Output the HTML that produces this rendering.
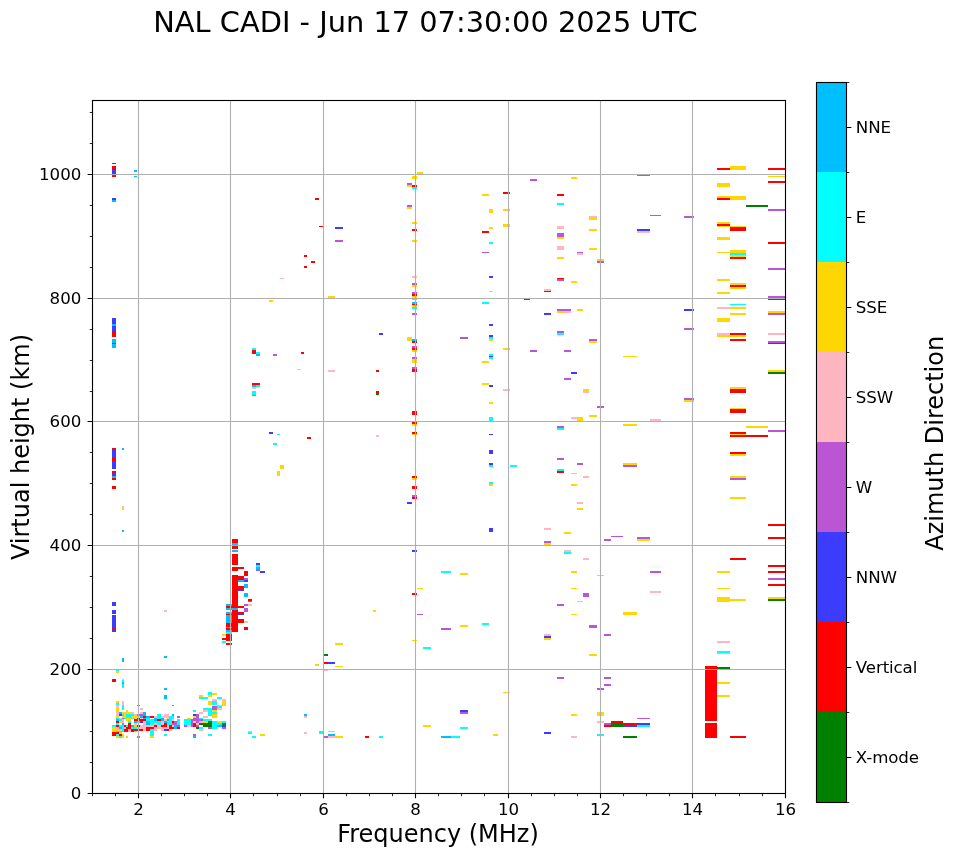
<!DOCTYPE html>
<html><head><meta charset="utf-8"><title>NAL CADI</title>
<style>html,body{margin:0;padding:0;background:#fff}svg{display:block}text{font-family:"DejaVu Sans","Liberation Sans",sans-serif;fill:#000}</style></head><body>
<svg width="958" height="857" viewBox="0 0 958 857">
<rect width="958" height="857" fill="#fff"/>
<g>
<rect x="112" y="163" width="4" height="1" fill="#3c3cff"/>
<rect x="112" y="166" width="4" height="4" fill="#ff0000"/>
<rect x="112" y="170" width="4" height="6" fill="#3c3cff"/>
<rect x="112" y="176" width="4" height="1" fill="#ff0000"/>
<rect x="134" y="170" width="3" height="2" fill="#00bfff"/>
<rect x="134" y="176" width="3" height="1" fill="#00bfff"/>
<rect x="112" y="198" width="4" height="2" fill="#3c3cff"/>
<rect x="112" y="200" width="4" height="2" fill="#00bfff"/>
<rect x="315" y="198" width="4" height="2" fill="#ff0000"/>
<rect x="319" y="226" width="4" height="1" fill="#ff0000"/>
<rect x="304" y="255" width="3" height="2" fill="#ff0000"/>
<rect x="311" y="261" width="4" height="2" fill="#ff0000"/>
<rect x="304" y="266" width="3" height="2" fill="#ff0000"/>
<rect x="280" y="278" width="4" height="1" fill="#ffb6c1"/>
<rect x="417" y="172" width="6" height="2" fill="#ffd700"/>
<rect x="412" y="176" width="5" height="3" fill="#ffd700"/>
<rect x="407" y="183" width="5" height="2" fill="#ba55d3"/>
<rect x="407" y="185" width="5" height="2" fill="#ffd700"/>
<rect x="412" y="185" width="5" height="2" fill="#ff0000"/>
<rect x="412" y="187" width="5" height="2" fill="#00ffff"/>
<rect x="407" y="205" width="5" height="2" fill="#ba55d3"/>
<rect x="407" y="207" width="5" height="2" fill="#ffd700"/>
<rect x="412" y="222" width="5" height="2" fill="#ffd700"/>
<rect x="412" y="229" width="5" height="2" fill="#ff0000"/>
<rect x="412" y="240" width="5" height="2" fill="#ffd700"/>
<rect x="335" y="227" width="8" height="2" fill="#3c3cff"/>
<rect x="335" y="240" width="8" height="2" fill="#ba55d3"/>
<rect x="412" y="276" width="5" height="2" fill="#ffb6c1"/>
<rect x="412" y="283" width="5" height="2" fill="#ba55d3"/>
<rect x="412" y="285" width="5" height="2" fill="#ffd700"/>
<rect x="530" y="179" width="7" height="2" fill="#ba55d3"/>
<rect x="571" y="177" width="6" height="2" fill="#ffd700"/>
<rect x="503" y="192" width="7" height="2" fill="#ff0000"/>
<rect x="482" y="194" width="7" height="2" fill="#ffd700"/>
<rect x="557" y="194" width="7" height="2" fill="#ff0000"/>
<rect x="557" y="203" width="7" height="2" fill="#00ffff"/>
<rect x="489" y="209" width="4" height="4" fill="#ffd700"/>
<rect x="503" y="209" width="7" height="2" fill="#ffd700"/>
<rect x="589" y="216" width="8" height="2" fill="#ffb6c1"/>
<rect x="589" y="218" width="8" height="2" fill="#ffd700"/>
<rect x="503" y="224" width="7" height="3" fill="#ffd700"/>
<rect x="489" y="227" width="4" height="2" fill="#ffd700"/>
<rect x="482" y="231" width="7" height="2" fill="#ff0000"/>
<rect x="557" y="226" width="7" height="3" fill="#ffb6c1"/>
<rect x="589" y="229" width="8" height="2" fill="#ffd700"/>
<rect x="557" y="233" width="7" height="4" fill="#ba55d3"/>
<rect x="557" y="237" width="7" height="2" fill="#ffd700"/>
<rect x="489" y="242" width="4" height="2" fill="#00ffff"/>
<rect x="557" y="246" width="7" height="4" fill="#ffb6c1"/>
<rect x="589" y="248" width="8" height="2" fill="#ffd700"/>
<rect x="482" y="252" width="7" height="1" fill="#ba55d3"/>
<rect x="577" y="252" width="6" height="1" fill="#ba55d3"/>
<rect x="577" y="253" width="6" height="2" fill="#ffb6c1"/>
<rect x="557" y="257" width="7" height="2" fill="#ffd700"/>
<rect x="597" y="259" width="7" height="2" fill="#ffd700"/>
<rect x="597" y="261" width="7" height="2" fill="#ba55d3"/>
<rect x="489" y="276" width="4" height="2" fill="#3c3cff"/>
<rect x="557" y="278" width="7" height="1" fill="#ff0000"/>
<rect x="557" y="279" width="7" height="2" fill="#ba55d3"/>
<rect x="571" y="281" width="6" height="2" fill="#ffd700"/>
<rect x="544" y="289" width="7" height="2" fill="#ffb6c1"/>
<rect x="544" y="291" width="7" height="1" fill="#ff0000"/>
<rect x="489" y="291" width="4" height="1" fill="#ffd700"/>
<rect x="717" y="168" width="13" height="2" fill="#ff0000"/>
<rect x="730" y="166" width="16" height="4" fill="#ffd700"/>
<rect x="768" y="168" width="17" height="2" fill="#ff0000"/>
<rect x="637" y="175" width="13" height="1" fill="#ba55d3"/>
<rect x="768" y="176" width="17" height="1" fill="#ffd700"/>
<rect x="768" y="181" width="17" height="2" fill="#ff0000"/>
<rect x="717" y="183" width="13" height="4" fill="#ffd700"/>
<rect x="717" y="196" width="13" height="2" fill="#ffd700"/>
<rect x="717" y="198" width="13" height="2" fill="#ff0000"/>
<rect x="730" y="196" width="16" height="4" fill="#ffd700"/>
<rect x="746" y="205" width="22" height="2" fill="#008000"/>
<rect x="768" y="209" width="17" height="2" fill="#ba55d3"/>
<rect x="650" y="215" width="11" height="1" fill="#ba55d3"/>
<rect x="684" y="216" width="10" height="2" fill="#ba55d3"/>
<rect x="717" y="222" width="13" height="2" fill="#ffd700"/>
<rect x="717" y="224" width="13" height="2" fill="#ff0000"/>
<rect x="717" y="226" width="13" height="1" fill="#ffd700"/>
<rect x="730" y="226" width="16" height="1" fill="#ffd700"/>
<rect x="730" y="227" width="16" height="4" fill="#ff0000"/>
<rect x="637" y="229" width="13" height="2" fill="#3c3cff"/>
<rect x="637" y="231" width="13" height="2" fill="#ffb6c1"/>
<rect x="717" y="237" width="13" height="3" fill="#ffd700"/>
<rect x="768" y="242" width="17" height="2" fill="#ff0000"/>
<rect x="717" y="252" width="13" height="1" fill="#ffd700"/>
<rect x="730" y="250" width="16" height="3" fill="#ffd700"/>
<rect x="730" y="253" width="16" height="2" fill="#00ffff"/>
<rect x="730" y="255" width="16" height="2" fill="#ffd700"/>
<rect x="730" y="257" width="16" height="2" fill="#ff0000"/>
<rect x="768" y="268" width="17" height="2" fill="#ba55d3"/>
<rect x="717" y="279" width="13" height="2" fill="#ffd700"/>
<rect x="730" y="283" width="16" height="2" fill="#ffd700"/>
<rect x="730" y="285" width="16" height="2" fill="#ff0000"/>
<rect x="730" y="287" width="16" height="2" fill="#ffd700"/>
<rect x="717" y="292" width="13" height="2" fill="#ffd700"/>
<rect x="112" y="318" width="4" height="6" fill="#3c3cff"/>
<rect x="112" y="324" width="4" height="2" fill="#00bfff"/>
<rect x="112" y="326" width="4" height="5" fill="#3c3cff"/>
<rect x="112" y="331" width="4" height="6" fill="#ff0000"/>
<rect x="112" y="339" width="4" height="4" fill="#00bfff"/>
<rect x="112" y="343" width="4" height="1" fill="#3c3cff"/>
<rect x="112" y="344" width="4" height="4" fill="#00bfff"/>
<rect x="269" y="300" width="4" height="2" fill="#ffd700"/>
<rect x="328" y="296" width="7" height="2" fill="#ffd700"/>
<rect x="379" y="333" width="4" height="2" fill="#3c3cff"/>
<rect x="407" y="337" width="5" height="4" fill="#ffd700"/>
<rect x="252" y="348" width="4" height="2" fill="#00ffff"/>
<rect x="252" y="350" width="4" height="4" fill="#ff0000"/>
<rect x="256" y="352" width="4" height="2" fill="#00ffff"/>
<rect x="256" y="354" width="4" height="2" fill="#00bfff"/>
<rect x="273" y="354" width="4" height="2" fill="#ba55d3"/>
<rect x="301" y="352" width="3" height="2" fill="#ff0000"/>
<rect x="297" y="369" width="4" height="1" fill="#ffd700"/>
<rect x="328" y="370" width="7" height="2" fill="#ffb6c1"/>
<rect x="376" y="370" width="3" height="2" fill="#ff0000"/>
<rect x="252" y="383" width="8" height="2" fill="#ff0000"/>
<rect x="252" y="385" width="4" height="2" fill="#00bfff"/>
<rect x="256" y="385" width="4" height="2" fill="#00ffff"/>
<rect x="252" y="387" width="4" height="2" fill="#ffb6c1"/>
<rect x="252" y="391" width="4" height="4" fill="#00ffff"/>
<rect x="252" y="395" width="4" height="1" fill="#00bfff"/>
<rect x="376" y="391" width="3" height="2" fill="#ff0000"/>
<rect x="376" y="393" width="3" height="2" fill="#008000"/>
<rect x="269" y="432" width="4" height="2" fill="#3c3cff"/>
<rect x="412" y="292" width="5" height="2" fill="#ba55d3"/>
<rect x="412" y="294" width="5" height="2" fill="#ff0000"/>
<rect x="412" y="296" width="5" height="2" fill="#ffd700"/>
<rect x="412" y="298" width="5" height="2" fill="#00ffff"/>
<rect x="412" y="302" width="5" height="2" fill="#00bfff"/>
<rect x="412" y="304" width="5" height="1" fill="#ff0000"/>
<rect x="412" y="305" width="5" height="2" fill="#ffd700"/>
<rect x="412" y="307" width="5" height="2" fill="#00ffff"/>
<rect x="412" y="313" width="5" height="2" fill="#ba55d3"/>
<rect x="412" y="339" width="5" height="2" fill="#00bfff"/>
<rect x="412" y="341" width="5" height="2" fill="#ff0000"/>
<rect x="412" y="346" width="5" height="2" fill="#ba55d3"/>
<rect x="412" y="348" width="5" height="2" fill="#ff0000"/>
<rect x="412" y="350" width="5" height="2" fill="#ffd700"/>
<rect x="412" y="357" width="5" height="2" fill="#ba55d3"/>
<rect x="412" y="359" width="5" height="4" fill="#ffd700"/>
<rect x="412" y="367" width="5" height="2" fill="#ba55d3"/>
<rect x="412" y="369" width="5" height="3" fill="#ff0000"/>
<rect x="412" y="411" width="5" height="4" fill="#ff0000"/>
<rect x="412" y="422" width="5" height="2" fill="#ff0000"/>
<rect x="412" y="424" width="5" height="2" fill="#ffd700"/>
<rect x="524" y="299" width="6" height="1" fill="#3c3cff"/>
<rect x="482" y="302" width="7" height="2" fill="#00ffff"/>
<rect x="544" y="313" width="7" height="2" fill="#3c3cff"/>
<rect x="489" y="324" width="4" height="2" fill="#3c3cff"/>
<rect x="489" y="335" width="4" height="2" fill="#3c3cff"/>
<rect x="489" y="337" width="4" height="2" fill="#00ffff"/>
<rect x="489" y="339" width="4" height="2" fill="#ffd700"/>
<rect x="460" y="337" width="8" height="2" fill="#ba55d3"/>
<rect x="503" y="348" width="7" height="2" fill="#ffd700"/>
<rect x="530" y="350" width="7" height="2" fill="#ba55d3"/>
<rect x="489" y="354" width="4" height="2" fill="#00ffff"/>
<rect x="489" y="356" width="4" height="1" fill="#3c3cff"/>
<rect x="489" y="357" width="4" height="2" fill="#00ffff"/>
<rect x="482" y="361" width="7" height="2" fill="#ffd700"/>
<rect x="482" y="383" width="7" height="2" fill="#ffd700"/>
<rect x="489" y="385" width="4" height="2" fill="#3c3cff"/>
<rect x="503" y="389" width="7" height="2" fill="#ffb6c1"/>
<rect x="489" y="402" width="4" height="2" fill="#ffd700"/>
<rect x="489" y="417" width="4" height="4" fill="#00ffff"/>
<rect x="557" y="426" width="7" height="2" fill="#ba55d3"/>
<rect x="557" y="428" width="7" height="2" fill="#00ffff"/>
<rect x="557" y="309" width="14" height="2" fill="#ba55d3"/>
<rect x="557" y="311" width="7" height="2" fill="#ffd700"/>
<rect x="564" y="311" width="7" height="2" fill="#ffb6c1"/>
<rect x="577" y="309" width="6" height="2" fill="#ffd700"/>
<rect x="684" y="309" width="10" height="2" fill="#3c3cff"/>
<rect x="684" y="328" width="10" height="2" fill="#ba55d3"/>
<rect x="557" y="331" width="7" height="2" fill="#ba55d3"/>
<rect x="557" y="333" width="7" height="2" fill="#00ffff"/>
<rect x="589" y="339" width="8" height="2" fill="#ba55d3"/>
<rect x="589" y="341" width="8" height="2" fill="#ffd700"/>
<rect x="564" y="350" width="7" height="2" fill="#ba55d3"/>
<rect x="623" y="356" width="14" height="1" fill="#ffd700"/>
<rect x="571" y="372" width="6" height="2" fill="#3c3cff"/>
<rect x="564" y="378" width="7" height="2" fill="#ba55d3"/>
<rect x="583" y="389" width="6" height="2" fill="#ffd700"/>
<rect x="583" y="391" width="6" height="2" fill="#ffb6c1"/>
<rect x="684" y="398" width="10" height="2" fill="#ba55d3"/>
<rect x="684" y="400" width="10" height="2" fill="#ffd700"/>
<rect x="597" y="406" width="7" height="2" fill="#ba55d3"/>
<rect x="589" y="415" width="8" height="2" fill="#ffd700"/>
<rect x="571" y="417" width="6" height="2" fill="#ffb6c1"/>
<rect x="577" y="417" width="6" height="4" fill="#ffd700"/>
<rect x="650" y="419" width="11" height="2" fill="#ffb6c1"/>
<rect x="623" y="424" width="14" height="2" fill="#ffd700"/>
<rect x="768" y="296" width="17" height="2" fill="#ba55d3"/>
<rect x="768" y="298" width="17" height="2" fill="#008000"/>
<rect x="730" y="304" width="16" height="1" fill="#00ffff"/>
<rect x="717" y="307" width="13" height="2" fill="#ffb6c1"/>
<rect x="730" y="307" width="16" height="2" fill="#ffd700"/>
<rect x="768" y="311" width="17" height="2" fill="#ffd700"/>
<rect x="768" y="313" width="17" height="2" fill="#ba55d3"/>
<rect x="730" y="313" width="16" height="2" fill="#ffd700"/>
<rect x="717" y="318" width="13" height="4" fill="#ffd700"/>
<rect x="717" y="333" width="13" height="2" fill="#ffb6c1"/>
<rect x="730" y="333" width="16" height="2" fill="#ff0000"/>
<rect x="717" y="335" width="29" height="2" fill="#ffd700"/>
<rect x="768" y="333" width="17" height="2" fill="#ffb6c1"/>
<rect x="730" y="339" width="16" height="2" fill="#ff0000"/>
<rect x="768" y="341" width="17" height="2" fill="#ba55d3"/>
<rect x="768" y="343" width="17" height="1" fill="#ff0000"/>
<rect x="768" y="370" width="17" height="2" fill="#ffd700"/>
<rect x="768" y="372" width="17" height="2" fill="#008000"/>
<rect x="730" y="387" width="16" height="2" fill="#ffd700"/>
<rect x="730" y="389" width="16" height="4" fill="#ff0000"/>
<rect x="730" y="408" width="16" height="1" fill="#ffd700"/>
<rect x="730" y="409" width="16" height="4" fill="#ff0000"/>
<rect x="746" y="426" width="22" height="2" fill="#ffd700"/>
<rect x="768" y="430" width="17" height="2" fill="#ba55d3"/>
<rect x="112" y="448" width="4" height="2" fill="#ff0000"/>
<rect x="112" y="450" width="4" height="8" fill="#3c3cff"/>
<rect x="112" y="458" width="4" height="3" fill="#ff0000"/>
<rect x="112" y="461" width="4" height="8" fill="#3c3cff"/>
<rect x="112" y="471" width="4" height="2" fill="#ff0000"/>
<rect x="112" y="473" width="4" height="3" fill="#3c3cff"/>
<rect x="112" y="476" width="4" height="2" fill="#00bfff"/>
<rect x="112" y="478" width="4" height="2" fill="#ff0000"/>
<rect x="112" y="486" width="4" height="3" fill="#ff0000"/>
<rect x="122" y="448" width="2" height="2" fill="#00bfff"/>
<rect x="122" y="506" width="2" height="2" fill="#ffb6c1"/>
<rect x="122" y="508" width="2" height="2" fill="#ffd700"/>
<rect x="122" y="530" width="2" height="2" fill="#00bfff"/>
<rect x="232" y="539" width="6" height="4" fill="#ff0000"/>
<rect x="232" y="543" width="6" height="2" fill="#00bfff"/>
<rect x="232" y="545" width="6" height="4" fill="#ff0000"/>
<rect x="232" y="550" width="6" height="2" fill="#00bfff"/>
<rect x="232" y="554" width="6" height="11" fill="#ff0000"/>
<rect x="232" y="567" width="6" height="4" fill="#ff0000"/>
<rect x="238" y="567" width="6" height="2" fill="#ff0000"/>
<rect x="244" y="571" width="4" height="5" fill="#ff0000"/>
<rect x="232" y="575" width="6" height="57" fill="#ff0000"/>
<rect x="238" y="576" width="6" height="4" fill="#ff0000"/>
<rect x="244" y="578" width="4" height="2" fill="#ba55d3"/>
<rect x="238" y="580" width="6" height="2" fill="#00bfff"/>
<rect x="244" y="580" width="4" height="2" fill="#3c3cff"/>
<rect x="244" y="584" width="4" height="4" fill="#00bfff"/>
<rect x="238" y="586" width="6" height="3" fill="#ff0000"/>
<rect x="238" y="589" width="6" height="2" fill="#3c3cff"/>
<rect x="244" y="593" width="4" height="4" fill="#00bfff"/>
<rect x="248" y="599" width="4" height="2" fill="#ff0000"/>
<rect x="248" y="601" width="4" height="1" fill="#ba55d3"/>
<rect x="244" y="604" width="4" height="2" fill="#ba55d3"/>
<rect x="248" y="604" width="4" height="2" fill="#ffb6c1"/>
<rect x="238" y="606" width="6" height="2" fill="#ff0000"/>
<rect x="244" y="608" width="4" height="4" fill="#ba55d3"/>
<rect x="238" y="612" width="6" height="2" fill="#ff0000"/>
<rect x="238" y="614" width="6" height="1" fill="#3c3cff"/>
<rect x="238" y="619" width="6" height="4" fill="#ff0000"/>
<rect x="244" y="621" width="4" height="2" fill="#ffb6c1"/>
<rect x="244" y="627" width="4" height="3" fill="#ff0000"/>
<rect x="226" y="604" width="6" height="2" fill="#00bfff"/>
<rect x="226" y="606" width="6" height="2" fill="#ff0000"/>
<rect x="226" y="608" width="12" height="2" fill="#00bfff"/>
<rect x="226" y="612" width="6" height="2" fill="#00bfff"/>
<rect x="226" y="614" width="6" height="1" fill="#ff0000"/>
<rect x="226" y="615" width="6" height="8" fill="#00bfff"/>
<rect x="226" y="623" width="6" height="4" fill="#ff0000"/>
<rect x="226" y="627" width="6" height="1" fill="#00bfff"/>
<rect x="226" y="628" width="6" height="2" fill="#ff0000"/>
<rect x="226" y="630" width="6" height="2" fill="#00bfff"/>
<rect x="226" y="632" width="6" height="2" fill="#00ffff"/>
<rect x="226" y="634" width="6" height="7" fill="#ff0000"/>
<rect x="222" y="634" width="4" height="2" fill="#ffd700"/>
<rect x="222" y="638" width="4" height="2" fill="#ff0000"/>
<rect x="222" y="641" width="4" height="2" fill="#00ffff"/>
<rect x="226" y="643" width="6" height="2" fill="#ff0000"/>
<rect x="256" y="563" width="4" height="2" fill="#3c3cff"/>
<rect x="256" y="565" width="4" height="2" fill="#00ffff"/>
<rect x="256" y="567" width="4" height="2" fill="#00bfff"/>
<rect x="256" y="569" width="4" height="2" fill="#ba55d3"/>
<rect x="260" y="571" width="5" height="2" fill="#3c3cff"/>
<rect x="277" y="434" width="3" height="1" fill="#00ffff"/>
<rect x="307" y="437" width="4" height="2" fill="#ff0000"/>
<rect x="273" y="443" width="4" height="2" fill="#00ffff"/>
<rect x="376" y="435" width="3" height="2" fill="#ffb6c1"/>
<rect x="280" y="465" width="4" height="4" fill="#ffd700"/>
<rect x="277" y="471" width="3" height="2" fill="#ffd700"/>
<rect x="277" y="473" width="3" height="1" fill="#ffb6c1"/>
<rect x="277" y="474" width="3" height="2" fill="#ffd700"/>
<rect x="407" y="502" width="5" height="2" fill="#3c3cff"/>
<rect x="412" y="432" width="5" height="2" fill="#ff0000"/>
<rect x="412" y="434" width="5" height="1" fill="#ffd700"/>
<rect x="412" y="476" width="5" height="2" fill="#ff0000"/>
<rect x="412" y="478" width="5" height="2" fill="#ffd700"/>
<rect x="412" y="486" width="5" height="3" fill="#ff0000"/>
<rect x="412" y="495" width="5" height="2" fill="#ba55d3"/>
<rect x="412" y="497" width="5" height="2" fill="#ff0000"/>
<rect x="412" y="550" width="5" height="2" fill="#3c3cff"/>
<rect x="489" y="434" width="4" height="1" fill="#3c3cff"/>
<rect x="489" y="450" width="4" height="4" fill="#3c3cff"/>
<rect x="489" y="463" width="4" height="2" fill="#3c3cff"/>
<rect x="489" y="465" width="4" height="2" fill="#00ffff"/>
<rect x="489" y="482" width="4" height="2" fill="#00ffff"/>
<rect x="489" y="484" width="4" height="2" fill="#ffd700"/>
<rect x="489" y="528" width="4" height="4" fill="#3c3cff"/>
<rect x="510" y="465" width="7" height="2" fill="#00ffff"/>
<rect x="557" y="458" width="7" height="2" fill="#ba55d3"/>
<rect x="557" y="469" width="7" height="2" fill="#00ffff"/>
<rect x="557" y="471" width="7" height="2" fill="#ff0000"/>
<rect x="544" y="528" width="7" height="2" fill="#ffb6c1"/>
<rect x="544" y="541" width="7" height="2" fill="#ba55d3"/>
<rect x="544" y="543" width="7" height="2" fill="#ffd700"/>
<rect x="441" y="571" width="10" height="2" fill="#00ffff"/>
<rect x="577" y="463" width="6" height="2" fill="#ba55d3"/>
<rect x="571" y="473" width="6" height="1" fill="#ffb6c1"/>
<rect x="583" y="476" width="6" height="2" fill="#ffb6c1"/>
<rect x="571" y="484" width="6" height="2" fill="#ffd700"/>
<rect x="623" y="463" width="14" height="2" fill="#ffd700"/>
<rect x="623" y="465" width="14" height="2" fill="#ba55d3"/>
<rect x="577" y="502" width="6" height="2" fill="#ffb6c1"/>
<rect x="577" y="508" width="6" height="2" fill="#ffd700"/>
<rect x="564" y="532" width="7" height="2" fill="#ffd700"/>
<rect x="611" y="536" width="12" height="1" fill="#ba55d3"/>
<rect x="604" y="539" width="7" height="2" fill="#ba55d3"/>
<rect x="637" y="537" width="13" height="2" fill="#ba55d3"/>
<rect x="637" y="539" width="13" height="2" fill="#ffd700"/>
<rect x="564" y="550" width="7" height="2" fill="#ffb6c1"/>
<rect x="564" y="552" width="7" height="2" fill="#00ffff"/>
<rect x="583" y="558" width="6" height="2" fill="#ffb6c1"/>
<rect x="571" y="571" width="6" height="2" fill="#ffd700"/>
<rect x="650" y="571" width="11" height="2" fill="#ba55d3"/>
<rect x="730" y="432" width="16" height="2" fill="#ff0000"/>
<rect x="730" y="434" width="16" height="1" fill="#ffd700"/>
<rect x="730" y="435" width="38" height="2" fill="#ff0000"/>
<rect x="730" y="452" width="16" height="2" fill="#ff0000"/>
<rect x="730" y="454" width="16" height="2" fill="#ffd700"/>
<rect x="730" y="476" width="16" height="2" fill="#ffd700"/>
<rect x="730" y="478" width="16" height="2" fill="#ba55d3"/>
<rect x="730" y="497" width="16" height="2" fill="#ffd700"/>
<rect x="768" y="524" width="17" height="2" fill="#ff0000"/>
<rect x="768" y="537" width="17" height="2" fill="#ff0000"/>
<rect x="730" y="558" width="16" height="2" fill="#ff0000"/>
<rect x="768" y="565" width="17" height="2" fill="#ff0000"/>
<rect x="768" y="571" width="17" height="2" fill="#ff0000"/>
<rect x="717" y="571" width="13" height="2" fill="#ffd700"/>
<rect x="112" y="602" width="4" height="4" fill="#3c3cff"/>
<rect x="112" y="610" width="4" height="4" fill="#3c3cff"/>
<rect x="112" y="615" width="4" height="13" fill="#3c3cff"/>
<rect x="112" y="628" width="4" height="2" fill="#ff0000"/>
<rect x="112" y="630" width="4" height="2" fill="#3c3cff"/>
<rect x="164" y="610" width="3" height="2" fill="#ffb6c1"/>
<rect x="122" y="658" width="2" height="4" fill="#00bfff"/>
<rect x="164" y="656" width="3" height="2" fill="#00bfff"/>
<rect x="116" y="670" width="3" height="1" fill="#00ffff"/>
<rect x="116" y="671" width="3" height="2" fill="#ffd700"/>
<rect x="112" y="679" width="4" height="3" fill="#ff0000"/>
<rect x="122" y="679" width="2" height="1" fill="#ffb6c1"/>
<rect x="122" y="680" width="2" height="2" fill="#00ffff"/>
<rect x="122" y="682" width="2" height="2" fill="#00bfff"/>
<rect x="122" y="684" width="2" height="4" fill="#00ffff"/>
<rect x="164" y="688" width="3" height="2" fill="#00bfff"/>
<rect x="164" y="695" width="3" height="4" fill="#00bfff"/>
<rect x="172" y="705" width="2" height="1" fill="#00bfff"/>
<rect x="137" y="705" width="3" height="1" fill="#ba55d3"/>
<rect x="248" y="731" width="4" height="1" fill="#ffb6c1"/>
<rect x="248" y="732" width="4" height="2" fill="#00ffff"/>
<rect x="252" y="736" width="4" height="2" fill="#00ffff"/>
<rect x="260" y="734" width="5" height="2" fill="#ffd700"/>
<rect x="304" y="714" width="3" height="2" fill="#00bfff"/>
<rect x="304" y="716" width="3" height="2" fill="#ffb6c1"/>
<rect x="304" y="732" width="3" height="2" fill="#ffb6c1"/>
<rect x="319" y="731" width="4" height="3" fill="#00ffff"/>
<rect x="328" y="731" width="7" height="1" fill="#ffd700"/>
<rect x="328" y="734" width="7" height="2" fill="#00bfff"/>
<rect x="324" y="736" width="4" height="2" fill="#ba55d3"/>
<rect x="328" y="736" width="7" height="2" fill="#ffb6c1"/>
<rect x="335" y="736" width="8" height="2" fill="#ffd700"/>
<rect x="365" y="736" width="4" height="2" fill="#ff0000"/>
<rect x="373" y="610" width="3" height="2" fill="#ffd700"/>
<rect x="335" y="643" width="8" height="2" fill="#ffd700"/>
<rect x="324" y="654" width="4" height="2" fill="#008000"/>
<rect x="324" y="662" width="4" height="2" fill="#ff0000"/>
<rect x="328" y="662" width="7" height="2" fill="#3c3cff"/>
<rect x="315" y="664" width="4" height="2" fill="#ffd700"/>
<rect x="335" y="666" width="8" height="1" fill="#ffd700"/>
<rect x="324" y="670" width="4" height="1" fill="#ffb6c1"/>
<rect x="460" y="573" width="8" height="2" fill="#ffd700"/>
<rect x="417" y="588" width="6" height="1" fill="#ffd700"/>
<rect x="412" y="593" width="5" height="2" fill="#ff0000"/>
<rect x="417" y="614" width="6" height="1" fill="#ba55d3"/>
<rect x="441" y="628" width="10" height="2" fill="#ba55d3"/>
<rect x="460" y="625" width="8" height="2" fill="#ffd700"/>
<rect x="482" y="623" width="7" height="2" fill="#00ffff"/>
<rect x="412" y="640" width="5" height="1" fill="#ffd700"/>
<rect x="423" y="647" width="8" height="2" fill="#00ffff"/>
<rect x="557" y="604" width="7" height="2" fill="#ba55d3"/>
<rect x="544" y="634" width="7" height="2" fill="#ffb6c1"/>
<rect x="544" y="636" width="7" height="2" fill="#3c3cff"/>
<rect x="544" y="638" width="7" height="2" fill="#ffd700"/>
<rect x="557" y="677" width="7" height="2" fill="#ba55d3"/>
<rect x="503" y="692" width="7" height="1" fill="#ffd700"/>
<rect x="460" y="710" width="8" height="2" fill="#3c3cff"/>
<rect x="460" y="712" width="8" height="2" fill="#ba55d3"/>
<rect x="597" y="575" width="7" height="1" fill="#ffd700"/>
<rect x="650" y="591" width="11" height="2" fill="#ffb6c1"/>
<rect x="571" y="588" width="6" height="1" fill="#ffd700"/>
<rect x="583" y="593" width="6" height="4" fill="#ba55d3"/>
<rect x="577" y="601" width="6" height="1" fill="#ffd700"/>
<rect x="571" y="614" width="6" height="1" fill="#ffd700"/>
<rect x="623" y="612" width="14" height="3" fill="#ffd700"/>
<rect x="589" y="625" width="8" height="3" fill="#ba55d3"/>
<rect x="604" y="634" width="7" height="2" fill="#ba55d3"/>
<rect x="589" y="654" width="8" height="2" fill="#ffd700"/>
<rect x="604" y="677" width="7" height="2" fill="#ba55d3"/>
<rect x="604" y="684" width="7" height="2" fill="#ba55d3"/>
<rect x="597" y="688" width="7" height="2" fill="#ba55d3"/>
<rect x="768" y="578" width="17" height="2" fill="#ba55d3"/>
<rect x="768" y="584" width="17" height="2" fill="#ff0000"/>
<rect x="717" y="588" width="13" height="1" fill="#ffd700"/>
<rect x="717" y="597" width="13" height="5" fill="#ffd700"/>
<rect x="730" y="599" width="16" height="2" fill="#ffd700"/>
<rect x="768" y="597" width="17" height="2" fill="#ffd700"/>
<rect x="768" y="599" width="17" height="2" fill="#008000"/>
<rect x="717" y="641" width="13" height="2" fill="#ffb6c1"/>
<rect x="717" y="651" width="13" height="2" fill="#00ffff"/>
<rect x="717" y="653" width="13" height="1" fill="#ffd700"/>
<rect x="717" y="667" width="13" height="2" fill="#008000"/>
<rect x="705" y="666" width="12" height="55" fill="#ff0000"/>
<rect x="705" y="723" width="12" height="15" fill="#ff0000"/>
<rect x="717" y="682" width="13" height="2" fill="#ffd700"/>
<rect x="717" y="695" width="13" height="2" fill="#ffd700"/>
<rect x="379" y="736" width="4" height="2" fill="#00ffff"/>
<rect x="423" y="725" width="8" height="2" fill="#ffd700"/>
<rect x="460" y="727" width="8" height="2" fill="#00ffff"/>
<rect x="441" y="736" width="10" height="2" fill="#00bfff"/>
<rect x="451" y="736" width="9" height="2" fill="#00ffff"/>
<rect x="493" y="734" width="5" height="2" fill="#ffd700"/>
<rect x="571" y="714" width="6" height="2" fill="#ffd700"/>
<rect x="597" y="712" width="7" height="4" fill="#ffd700"/>
<rect x="597" y="721" width="7" height="2" fill="#ffb6c1"/>
<rect x="604" y="723" width="7" height="2" fill="#ba55d3"/>
<rect x="604" y="725" width="7" height="2" fill="#ff0000"/>
<rect x="611" y="721" width="12" height="2" fill="#ff0000"/>
<rect x="611" y="723" width="12" height="4" fill="#008000"/>
<rect x="623" y="723" width="14" height="2" fill="#ff0000"/>
<rect x="623" y="725" width="14" height="2" fill="#3c3cff"/>
<rect x="637" y="723" width="13" height="2" fill="#3c3cff"/>
<rect x="637" y="725" width="13" height="2" fill="#00ffff"/>
<rect x="637" y="718" width="13" height="1" fill="#ba55d3"/>
<rect x="544" y="732" width="7" height="2" fill="#3c3cff"/>
<rect x="571" y="736" width="6" height="2" fill="#ffb6c1"/>
<rect x="597" y="734" width="7" height="2" fill="#00ffff"/>
<rect x="623" y="736" width="14" height="2" fill="#008000"/>
<rect x="730" y="736" width="16" height="2" fill="#ff0000"/>
<rect x="112" y="725" width="4" height="2" fill="#00ffff"/>
<rect x="112" y="727" width="4" height="5" fill="#ffd700"/>
<rect x="112" y="732" width="4" height="4" fill="#ff0000"/>
<rect x="116" y="701" width="3" height="2" fill="#ffd700"/>
<rect x="116" y="703" width="3" height="2" fill="#00ffff"/>
<rect x="116" y="705" width="3" height="3" fill="#ffb6c1"/>
<rect x="116" y="708" width="3" height="4" fill="#ffd700"/>
<rect x="116" y="712" width="3" height="4" fill="#ffb6c1"/>
<rect x="116" y="716" width="3" height="2" fill="#ffd700"/>
<rect x="116" y="718" width="3" height="1" fill="#00ffff"/>
<rect x="116" y="719" width="3" height="2" fill="#00bfff"/>
<rect x="116" y="721" width="3" height="2" fill="#ff0000"/>
<rect x="116" y="723" width="3" height="2" fill="#00ffff"/>
<rect x="116" y="725" width="3" height="2" fill="#ff0000"/>
<rect x="116" y="727" width="3" height="2" fill="#ffb6c1"/>
<rect x="116" y="729" width="3" height="2" fill="#ffd700"/>
<rect x="116" y="731" width="3" height="1" fill="#00ffff"/>
<rect x="116" y="732" width="3" height="2" fill="#ff0000"/>
<rect x="116" y="734" width="3" height="2" fill="#00ffff"/>
<rect x="116" y="736" width="3" height="2" fill="#ffd700"/>
<rect x="119" y="712" width="3" height="2" fill="#00bfff"/>
<rect x="119" y="714" width="3" height="2" fill="#3c3cff"/>
<rect x="119" y="718" width="3" height="1" fill="#ffb6c1"/>
<rect x="119" y="719" width="3" height="2" fill="#00ffff"/>
<rect x="119" y="721" width="3" height="2" fill="#ffd700"/>
<rect x="119" y="725" width="3" height="2" fill="#00ffff"/>
<rect x="119" y="727" width="3" height="2" fill="#00bfff"/>
<rect x="119" y="729" width="3" height="2" fill="#ffb6c1"/>
<rect x="119" y="731" width="3" height="1" fill="#00ffff"/>
<rect x="119" y="732" width="3" height="2" fill="#ffd700"/>
<rect x="119" y="734" width="3" height="2" fill="#ff0000"/>
<rect x="119" y="736" width="3" height="2" fill="#00ffff"/>
<rect x="122" y="701" width="2" height="4" fill="#ffb6c1"/>
<rect x="122" y="705" width="2" height="5" fill="#00ffff"/>
<rect x="122" y="712" width="2" height="2" fill="#ffd700"/>
<rect x="122" y="714" width="2" height="2" fill="#00ffff"/>
<rect x="122" y="716" width="2" height="2" fill="#ffd700"/>
<rect x="122" y="718" width="2" height="1" fill="#ba55d3"/>
<rect x="122" y="719" width="2" height="4" fill="#ffb6c1"/>
<rect x="122" y="723" width="2" height="2" fill="#00bfff"/>
<rect x="122" y="725" width="2" height="7" fill="#00ffff"/>
<rect x="122" y="734" width="2" height="4" fill="#ffd700"/>
<rect x="124" y="712" width="2" height="2" fill="#ffb6c1"/>
<rect x="124" y="714" width="2" height="4" fill="#ffd700"/>
<rect x="124" y="718" width="2" height="1" fill="#00ffff"/>
<rect x="124" y="725" width="2" height="2" fill="#ff0000"/>
<rect x="124" y="727" width="2" height="2" fill="#ffb6c1"/>
<rect x="124" y="729" width="2" height="2" fill="#ff0000"/>
<rect x="124" y="731" width="2" height="1" fill="#3c3cff"/>
<rect x="126" y="710" width="2" height="4" fill="#ffd700"/>
<rect x="126" y="714" width="2" height="4" fill="#00ffff"/>
<rect x="126" y="718" width="2" height="3" fill="#ffd700"/>
<rect x="126" y="725" width="2" height="2" fill="#00ffff"/>
<rect x="126" y="727" width="2" height="5" fill="#ff0000"/>
<rect x="126" y="736" width="2" height="2" fill="#ffd700"/>
<rect x="128" y="712" width="3" height="2" fill="#ffd700"/>
<rect x="128" y="714" width="3" height="4" fill="#00ffff"/>
<rect x="128" y="718" width="3" height="3" fill="#ffd700"/>
<rect x="128" y="721" width="3" height="2" fill="#00ffff"/>
<rect x="128" y="723" width="3" height="6" fill="#ff0000"/>
<rect x="128" y="729" width="3" height="3" fill="#ffb6c1"/>
<rect x="131" y="712" width="3" height="2" fill="#ffb6c1"/>
<rect x="131" y="714" width="3" height="2" fill="#00ffff"/>
<rect x="131" y="716" width="3" height="2" fill="#ffd700"/>
<rect x="131" y="718" width="3" height="1" fill="#00ffff"/>
<rect x="131" y="725" width="3" height="2" fill="#00bfff"/>
<rect x="131" y="727" width="3" height="2" fill="#00ffff"/>
<rect x="131" y="729" width="3" height="3" fill="#ff0000"/>
<rect x="134" y="714" width="3" height="2" fill="#ffb6c1"/>
<rect x="134" y="716" width="3" height="3" fill="#ffd700"/>
<rect x="134" y="719" width="3" height="2" fill="#ff0000"/>
<rect x="134" y="721" width="3" height="2" fill="#00bfff"/>
<rect x="134" y="723" width="3" height="2" fill="#ffb6c1"/>
<rect x="134" y="725" width="3" height="2" fill="#ffd700"/>
<rect x="134" y="727" width="3" height="2" fill="#00ffff"/>
<rect x="134" y="729" width="3" height="2" fill="#ff0000"/>
<rect x="134" y="731" width="3" height="1" fill="#ffd700"/>
<rect x="137" y="714" width="3" height="2" fill="#00bfff"/>
<rect x="137" y="716" width="3" height="2" fill="#ffb6c1"/>
<rect x="137" y="718" width="3" height="1" fill="#ff0000"/>
<rect x="137" y="719" width="3" height="2" fill="#3c3cff"/>
<rect x="137" y="721" width="3" height="2" fill="#00ffff"/>
<rect x="137" y="725" width="3" height="2" fill="#ff0000"/>
<rect x="137" y="727" width="3" height="2" fill="#ffb6c1"/>
<rect x="137" y="729" width="3" height="2" fill="#ff0000"/>
<rect x="137" y="736" width="3" height="2" fill="#ba55d3"/>
<rect x="140" y="708" width="3" height="2" fill="#ffb6c1"/>
<rect x="140" y="712" width="3" height="2" fill="#ffb6c1"/>
<rect x="140" y="714" width="3" height="2" fill="#ba55d3"/>
<rect x="140" y="716" width="3" height="2" fill="#00bfff"/>
<rect x="140" y="718" width="3" height="1" fill="#ffb6c1"/>
<rect x="140" y="719" width="3" height="2" fill="#ff0000"/>
<rect x="140" y="721" width="3" height="2" fill="#3c3cff"/>
<rect x="140" y="725" width="3" height="4" fill="#ffb6c1"/>
<rect x="140" y="729" width="3" height="2" fill="#ff0000"/>
<rect x="143" y="712" width="3" height="4" fill="#00bfff"/>
<rect x="143" y="716" width="3" height="2" fill="#ff0000"/>
<rect x="143" y="718" width="3" height="1" fill="#00bfff"/>
<rect x="143" y="719" width="3" height="2" fill="#ff0000"/>
<rect x="143" y="721" width="3" height="10" fill="#ffb6c1"/>
<rect x="146" y="716" width="4" height="2" fill="#00bfff"/>
<rect x="146" y="718" width="4" height="3" fill="#00ffff"/>
<rect x="146" y="721" width="4" height="4" fill="#00bfff"/>
<rect x="146" y="725" width="4" height="2" fill="#ffb6c1"/>
<rect x="146" y="727" width="4" height="4" fill="#ff0000"/>
<rect x="150" y="716" width="4" height="2" fill="#ff0000"/>
<rect x="150" y="719" width="4" height="6" fill="#00ffff"/>
<rect x="150" y="725" width="4" height="2" fill="#ffb6c1"/>
<rect x="150" y="727" width="4" height="2" fill="#ff0000"/>
<rect x="150" y="729" width="4" height="7" fill="#00ffff"/>
<rect x="150" y="736" width="4" height="2" fill="#ffd700"/>
<rect x="154" y="716" width="3" height="2" fill="#ffb6c1"/>
<rect x="154" y="718" width="3" height="3" fill="#00bfff"/>
<rect x="154" y="721" width="3" height="2" fill="#00ffff"/>
<rect x="154" y="723" width="3" height="2" fill="#ffb6c1"/>
<rect x="154" y="725" width="3" height="2" fill="#ff0000"/>
<rect x="154" y="727" width="3" height="4" fill="#ffb6c1"/>
<rect x="157" y="714" width="4" height="5" fill="#00ffff"/>
<rect x="157" y="719" width="4" height="2" fill="#ff0000"/>
<rect x="157" y="721" width="4" height="4" fill="#00ffff"/>
<rect x="157" y="725" width="4" height="4" fill="#ffb6c1"/>
<rect x="161" y="716" width="3" height="2" fill="#ffb6c1"/>
<rect x="161" y="718" width="3" height="3" fill="#00bfff"/>
<rect x="161" y="721" width="3" height="4" fill="#ffb6c1"/>
<rect x="161" y="725" width="3" height="2" fill="#ff0000"/>
<rect x="161" y="727" width="3" height="4" fill="#ffb6c1"/>
<rect x="164" y="714" width="3" height="4" fill="#ffb6c1"/>
<rect x="164" y="719" width="3" height="2" fill="#ffb6c1"/>
<rect x="164" y="721" width="3" height="2" fill="#00bfff"/>
<rect x="164" y="723" width="3" height="4" fill="#ff0000"/>
<rect x="164" y="727" width="3" height="2" fill="#ffb6c1"/>
<rect x="164" y="729" width="3" height="2" fill="#3c3cff"/>
<rect x="164" y="734" width="3" height="2" fill="#00ffff"/>
<rect x="167" y="714" width="2" height="5" fill="#ffb6c1"/>
<rect x="167" y="719" width="2" height="2" fill="#00bfff"/>
<rect x="167" y="721" width="2" height="4" fill="#00ffff"/>
<rect x="167" y="725" width="2" height="4" fill="#ffb6c1"/>
<rect x="167" y="729" width="2" height="2" fill="#ff0000"/>
<rect x="169" y="716" width="3" height="9" fill="#00ffff"/>
<rect x="169" y="725" width="3" height="4" fill="#ff0000"/>
<rect x="169" y="729" width="3" height="2" fill="#ffb6c1"/>
<rect x="172" y="714" width="2" height="2" fill="#00bfff"/>
<rect x="172" y="716" width="2" height="3" fill="#00ffff"/>
<rect x="172" y="719" width="2" height="2" fill="#ffb6c1"/>
<rect x="172" y="721" width="2" height="2" fill="#ff0000"/>
<rect x="172" y="723" width="2" height="2" fill="#ba55d3"/>
<rect x="172" y="725" width="2" height="2" fill="#ffb6c1"/>
<rect x="172" y="727" width="2" height="2" fill="#ff0000"/>
<rect x="174" y="721" width="3" height="4" fill="#ba55d3"/>
<rect x="174" y="725" width="3" height="4" fill="#00bfff"/>
<rect x="177" y="716" width="3" height="2" fill="#ba55d3"/>
<rect x="177" y="719" width="3" height="6" fill="#00ffff"/>
<rect x="177" y="725" width="3" height="2" fill="#ba55d3"/>
<rect x="177" y="727" width="3" height="2" fill="#ff0000"/>
<rect x="184" y="719" width="3" height="6" fill="#00ffff"/>
<rect x="184" y="725" width="3" height="2" fill="#ba55d3"/>
<rect x="187" y="718" width="4" height="1" fill="#ffd700"/>
<rect x="187" y="719" width="4" height="6" fill="#00ffff"/>
<rect x="187" y="725" width="4" height="2" fill="#ffb6c1"/>
<rect x="191" y="719" width="2" height="8" fill="#ba55d3"/>
<rect x="193" y="710" width="3" height="2" fill="#00ffff"/>
<rect x="193" y="714" width="3" height="2" fill="#3c3cff"/>
<rect x="193" y="716" width="3" height="2" fill="#ffd700"/>
<rect x="193" y="718" width="3" height="3" fill="#ba55d3"/>
<rect x="193" y="721" width="3" height="2" fill="#ffb6c1"/>
<rect x="193" y="723" width="3" height="4" fill="#ff0000"/>
<rect x="193" y="734" width="3" height="2" fill="#ba55d3"/>
<rect x="193" y="736" width="3" height="2" fill="#00bfff"/>
<rect x="196" y="714" width="3" height="9" fill="#ba55d3"/>
<rect x="196" y="723" width="3" height="2" fill="#ffb6c1"/>
<rect x="196" y="725" width="3" height="2" fill="#ba55d3"/>
<rect x="196" y="727" width="3" height="2" fill="#008000"/>
<rect x="199" y="695" width="4" height="2" fill="#ffd700"/>
<rect x="199" y="697" width="4" height="2" fill="#00ffff"/>
<rect x="199" y="712" width="4" height="2" fill="#ffb6c1"/>
<rect x="199" y="718" width="4" height="1" fill="#00ffff"/>
<rect x="199" y="719" width="4" height="2" fill="#ba55d3"/>
<rect x="199" y="721" width="4" height="2" fill="#ffb6c1"/>
<rect x="199" y="723" width="4" height="2" fill="#008000"/>
<rect x="199" y="727" width="4" height="2" fill="#00ffff"/>
<rect x="199" y="729" width="4" height="2" fill="#ffb6c1"/>
<rect x="203" y="697" width="5" height="2" fill="#00ffff"/>
<rect x="203" y="708" width="5" height="2" fill="#00ffff"/>
<rect x="203" y="710" width="5" height="2" fill="#ffb6c1"/>
<rect x="203" y="716" width="5" height="2" fill="#ffb6c1"/>
<rect x="203" y="719" width="5" height="2" fill="#00ffff"/>
<rect x="203" y="721" width="5" height="2" fill="#ffd700"/>
<rect x="203" y="723" width="5" height="4" fill="#008000"/>
<rect x="208" y="692" width="4" height="3" fill="#00ffff"/>
<rect x="208" y="695" width="4" height="2" fill="#ffd700"/>
<rect x="208" y="701" width="4" height="4" fill="#ffd700"/>
<rect x="208" y="708" width="4" height="8" fill="#00ffff"/>
<rect x="208" y="719" width="4" height="2" fill="#00ffff"/>
<rect x="208" y="721" width="4" height="6" fill="#008000"/>
<rect x="208" y="727" width="4" height="2" fill="#ba55d3"/>
<rect x="208" y="734" width="4" height="2" fill="#00ffff"/>
<rect x="212" y="693" width="5" height="2" fill="#ffd700"/>
<rect x="212" y="699" width="5" height="2" fill="#ffb6c1"/>
<rect x="212" y="701" width="5" height="4" fill="#00ffff"/>
<rect x="212" y="706" width="5" height="4" fill="#ba55d3"/>
<rect x="212" y="710" width="5" height="2" fill="#ffd700"/>
<rect x="212" y="712" width="5" height="2" fill="#00ffff"/>
<rect x="212" y="714" width="5" height="4" fill="#ffd700"/>
<rect x="212" y="721" width="5" height="8" fill="#00ffff"/>
<rect x="217" y="697" width="5" height="2" fill="#00ffff"/>
<rect x="217" y="705" width="5" height="1" fill="#ffb6c1"/>
<rect x="217" y="706" width="5" height="2" fill="#00ffff"/>
<rect x="217" y="708" width="5" height="2" fill="#ffb6c1"/>
<rect x="217" y="721" width="5" height="2" fill="#ffd700"/>
<rect x="217" y="723" width="5" height="2" fill="#00ffff"/>
<rect x="217" y="725" width="5" height="2" fill="#00bfff"/>
<rect x="222" y="699" width="4" height="2" fill="#ffb6c1"/>
<rect x="222" y="701" width="4" height="5" fill="#ffd700"/>
<rect x="222" y="721" width="4" height="2" fill="#00ffff"/>
<rect x="222" y="723" width="4" height="2" fill="#008000"/>
<rect x="222" y="725" width="4" height="2" fill="#3c3cff"/>
<rect x="222" y="727" width="4" height="2" fill="#ba55d3"/>
</g>
<path d="M138.5 100.5V793.5M230.5 100.5V793.5M323.5 100.5V793.5M415.5 100.5V793.5M508.5 100.5V793.5M600.5 100.5V793.5M692.5 100.5V793.5M92.5 669.5H785.5M92.5 545.5H785.5M92.5 421.5H785.5M92.5 298.5H785.5M92.5 174.5H785.5" stroke="#b0b0b0" stroke-width="1.11" fill="none"/>
<path d="M138.5 793.5v4.86M230.5 793.5v4.86M323.5 793.5v4.86M415.5 793.5v4.86M508.5 793.5v4.86M600.5 793.5v4.86M692.5 793.5v4.86M785.5 793.5v4.86M92.5 793.5h-4.86M92.5 669.5h-4.86M92.5 545.5h-4.86M92.5 421.5h-4.86M92.5 298.5h-4.86M92.5 174.5h-4.86" stroke="#000" stroke-width="1.11" fill="none"/>
<path d="M92.5 793.5v2.78M115.5 793.5v2.78M161.5 793.5v2.78M184.5 793.5v2.78M207.5 793.5v2.78M253.5 793.5v2.78M277.5 793.5v2.78M300.5 793.5v2.78M346.5 793.5v2.78M369.5 793.5v2.78M392.5 793.5v2.78M438.5 793.5v2.78M461.5 793.5v2.78M484.5 793.5v2.78M531.5 793.5v2.78M554.5 793.5v2.78M577.5 793.5v2.78M623.5 793.5v2.78M646.5 793.5v2.78M669.5 793.5v2.78M715.5 793.5v2.78M739.5 793.5v2.78M762.5 793.5v2.78M92.5 762.5h-2.78M92.5 731.5h-2.78M92.5 700.5h-2.78M92.5 638.5h-2.78M92.5 607.5h-2.78M92.5 576.5h-2.78M92.5 514.5h-2.78M92.5 483.5h-2.78M92.5 452.5h-2.78M92.5 391.5h-2.78M92.5 360.5h-2.78M92.5 329.5h-2.78M92.5 267.5h-2.78M92.5 236.5h-2.78M92.5 205.5h-2.78M92.5 143.5h-2.78M92.5 112.5h-2.78" stroke="#000" stroke-width="0.83" fill="none"/>
<rect x="92.5" y="100.5" width="693.0" height="693.0" fill="none" stroke="#000" stroke-width="1.11"/>
<text x="138.5" y="815" font-size="16.67" text-anchor="middle">2</text>
<text x="230.5" y="815" font-size="16.67" text-anchor="middle">4</text>
<text x="323.5" y="815" font-size="16.67" text-anchor="middle">6</text>
<text x="415.5" y="815" font-size="16.67" text-anchor="middle">8</text>
<text x="508.5" y="815" font-size="16.67" text-anchor="middle">10</text>
<text x="600.5" y="815" font-size="16.67" text-anchor="middle">12</text>
<text x="692.5" y="815" font-size="16.67" text-anchor="middle">14</text>
<text x="785.5" y="815" font-size="16.67" text-anchor="middle">16</text>
<text x="81.4" y="799.10" font-size="16.67" text-anchor="end">0</text>
<text x="81.4" y="675.10" font-size="16.67" text-anchor="end">200</text>
<text x="81.4" y="551.10" font-size="16.67" text-anchor="end">400</text>
<text x="81.4" y="427.10" font-size="16.67" text-anchor="end">600</text>
<text x="81.4" y="304.10" font-size="16.67" text-anchor="end">800</text>
<text x="81.4" y="180.10" font-size="16.67" text-anchor="end">1000</text>
<text x="438" y="842" font-size="24" text-anchor="middle">Frequency (MHz)</text>
<text transform="translate(28.5 447) rotate(-90)" font-size="24" text-anchor="middle">Virtual height (km)</text>
<text x="425.5" y="32" font-size="28.85" text-anchor="middle">NAL CADI - Jun 17 07:30:00 2025 UTC</text>
<rect x="816.5" y="82" width="30.0" height="90" fill="#00bfff"/>
<rect x="816.5" y="172" width="30.0" height="90" fill="#00ffff"/>
<rect x="816.5" y="262" width="30.0" height="90" fill="#ffd700"/>
<rect x="816.5" y="352" width="30.0" height="90" fill="#ffb6c1"/>
<rect x="816.5" y="442" width="30.0" height="90" fill="#ba55d3"/>
<rect x="816.5" y="532" width="30.0" height="90" fill="#3c3cff"/>
<rect x="816.5" y="622" width="30.0" height="90" fill="#ff0000"/>
<rect x="816.5" y="712" width="30.0" height="90.5" fill="#008000"/>
<rect x="816.5" y="82.5" width="30.0" height="720.0" fill="none" stroke="#000" stroke-width="1.11"/>
<path d="M846.5 82.50h2.78M846.5 172.50h2.78M846.5 262.50h2.78M846.5 352.50h2.78M846.5 442.50h2.78M846.5 532.50h2.78M846.5 622.50h2.78M846.5 712.50h2.78M846.5 802.50h2.78" stroke="#000" stroke-width="0.83" fill="none"/>
<path d="M846.5 127.50h4.86M846.5 217.50h4.86M846.5 307.50h4.86M846.5 397.50h4.86M846.5 487.50h4.86M846.5 577.50h4.86M846.5 667.50h4.86M846.5 757.50h4.86" stroke="#000" stroke-width="1.11" fill="none"/>
<text x="855.8" y="132.90" font-size="16.67" letter-spacing="-0.12">NNE</text>
<text x="855.8" y="222.90" font-size="16.67" letter-spacing="-0.12">E</text>
<text x="855.8" y="312.90" font-size="16.67" letter-spacing="-0.12">SSE</text>
<text x="855.8" y="402.90" font-size="16.67" letter-spacing="-0.12">SSW</text>
<text x="855.8" y="492.90" font-size="16.67" letter-spacing="-0.12">W</text>
<text x="855.8" y="582.90" font-size="16.67" letter-spacing="-0.12">NNW</text>
<text x="855.8" y="672.90" font-size="16.67" letter-spacing="-0.12">Vertical</text>
<text x="855.8" y="762.90" font-size="16.67" letter-spacing="-0.12">X-mode</text>
<text transform="translate(943 443.3) rotate(-90)" font-size="24" text-anchor="middle">Azimuth Direction</text>
</svg></body></html>
